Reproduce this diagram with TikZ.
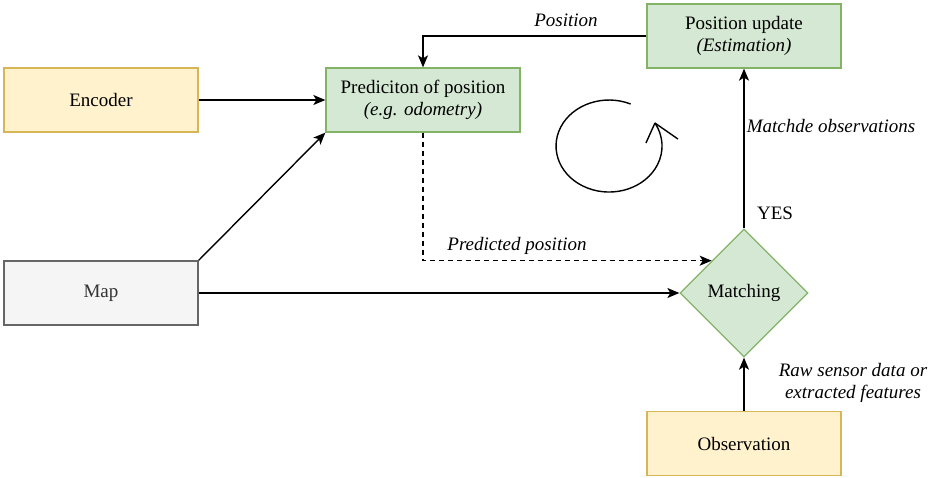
\documentclass[tikz,border=0pt]{standalone}
\usepackage{fontspec}
\setmainfont{Liberation Serif}[ItalicFont={Liberation Serif Italic},BoldFont={Liberation Serif Bold}]
\usetikzlibrary{arrows.meta,shapes.geometric,calc}
\definecolor{gfill}{HTML}{D5E8D4}
\definecolor{gstroke}{HTML}{82B366}
\definecolor{yfill}{HTML}{FFF2CC}
\definecolor{ystroke}{HTML}{D6B656}
\definecolor{mfill}{HTML}{F5F5F5}
\definecolor{mstroke}{HTML}{666666}
\definecolor{mtext}{HTML}{333333}
\begin{document}
\begin{tikzpicture}[x=1pt,y=-1pt,
  txt/.style={font=\fontsize{19}{22.5}\selectfont},
  box/.style={txt, draw, line width=1.3pt, minimum width=194pt, minimum height=64pt, inner sep=0pt, align=center},
  greenbox/.style={box, fill=gfill, draw=gstroke},
  yellowbox/.style={box, fill=yfill, draw=ystroke},
  greybox/.style={box, fill=mfill, draw=mstroke, text=mtext},
  decision/.style={txt, diamond, draw=gstroke, fill=gfill, line width=1.3pt, minimum width=128pt, minimum height=128pt, inner sep=0pt},
  conn/.style={line width=1.4pt, -{Stealth[length=12pt,width=10pt,inset=3pt]}},
  lbl/.style={font=\fontsize{19}{22.5}\selectfont\itshape, inner sep=0pt, align=center}]
\useasboundingbox (0,0) rectangle (934,477);

\node[yellowbox] (enc) at (101,100) {Encoder};
\node[greybox] (map) at (101,293) {Map};
\node[greenbox] (pred) at (423,100) {Prediciton of position\\\textit{(e.g. odometry)}};
\node[greenbox] (upd) at (744,36) {Position update\\\textit{(Estimation)}};
\node[decision] (match) at (744,293) {Matching};
\node[yellowbox] (obs) at (744,443.5) {Observation};

\coordinate (mtl) at ($(match.north)!0.5!(match.west)$);

\draw[conn] (enc.east) -- (pred.west);
\draw[conn] (map.north east) -- (pred.south west);
\draw[conn] (map.east) -- (match.west);
\draw[conn] (upd.west) -| (pred.north);
\draw[conn, dash pattern=on 5pt off 4pt] (pred.south) |- (mtl);
\draw[conn] (match.north) -- (upd.south);
\draw[conn] (obs.north) -- (match.south);

\node[lbl] (lpos) at (566,20) {Position};
\node[lbl] (lpred) at (517,246) {Predicted position};
\node[txt, inner sep=0pt] (lyes) at (775,213) {YES};
\node[lbl] (lmat) at (831,126) {Matchde observations};
\node[lbl] (lraw) at (853,383) {Raw sensor data or\\extracted features};

\draw[line width=1.4pt] (630.6,104) arc[start angle=-66, end angle=-390, x radius=53, y radius=46] coordinate (tip);
\draw[line width=1.4pt] (tip) -- ++(-9,20);
\draw[line width=1.4pt] (tip) -- ++(23,16);
\end{tikzpicture}
\end{document}
